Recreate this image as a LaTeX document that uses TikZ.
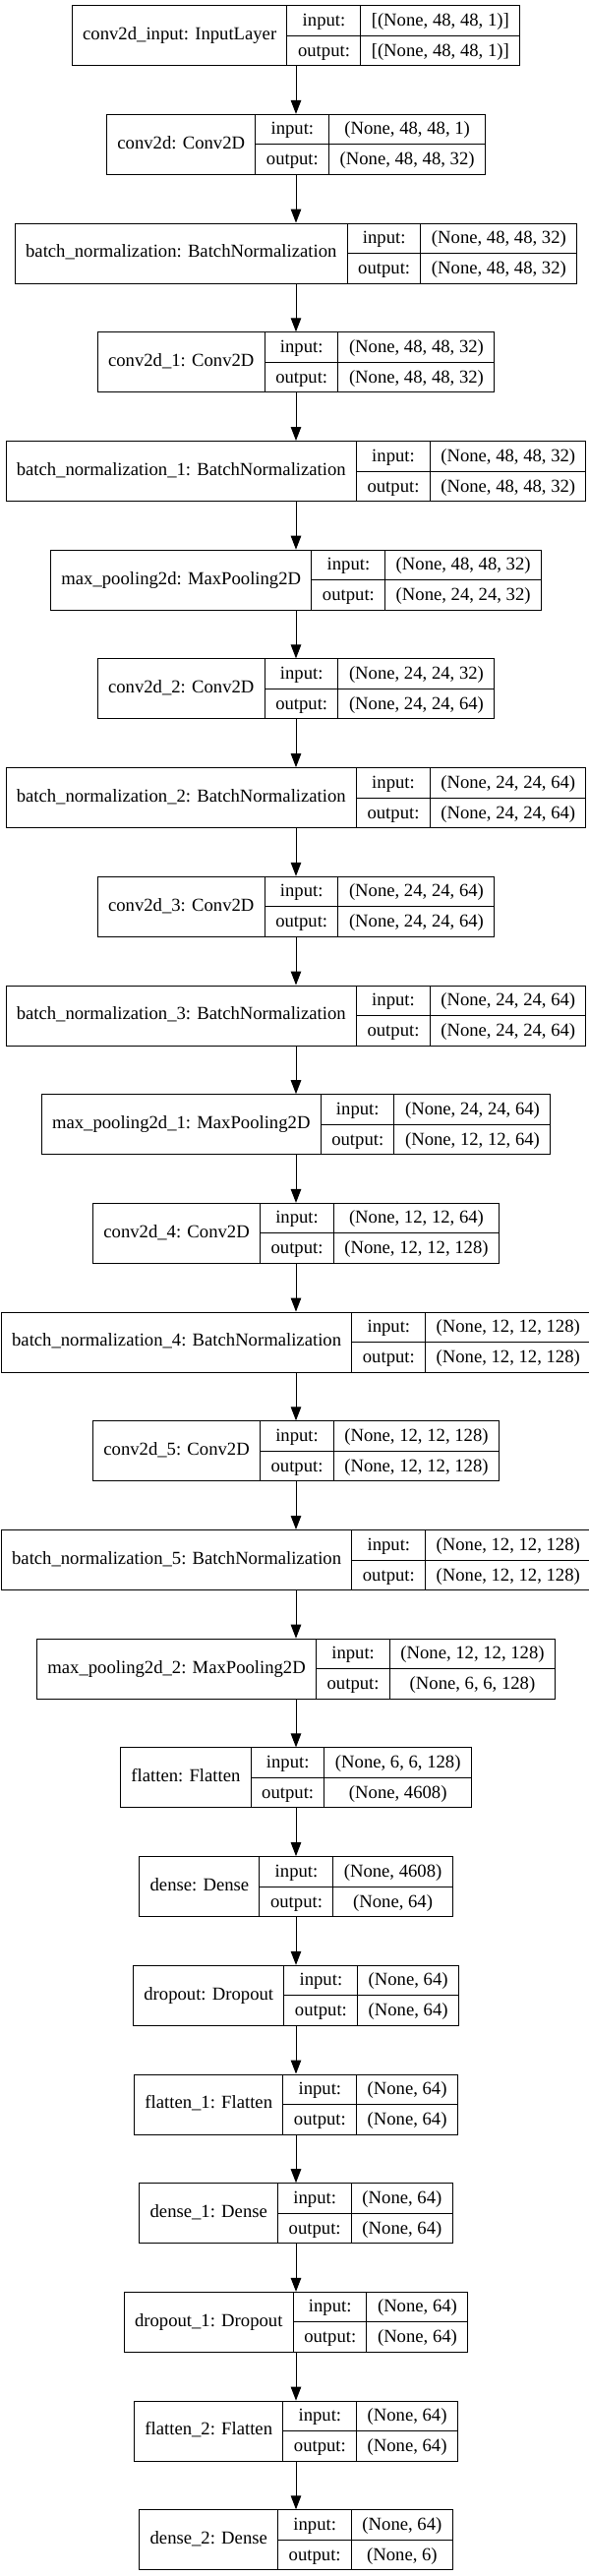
\documentclass[tikz,border=0pt]{standalone}
\usepackage{fontspec}
\setmainfont{Liberation Serif}
\usepackage{tikz}
\usetikzlibrary{arrows.meta}

\setlength{\tabcolsep}{10.67pt}
\setlength{\arrayrulewidth}{1pt}
\newcommand{\rowstrut}{\rule[-9.5pt]{0pt}{30pt}}
\newcommand{\portcol}[2]{\begin{tabular}{c}\rowstrut #1\\\hline\rowstrut #2\end{tabular}}
\newcommand{\layer}[4]{%
\node[layerbox] (l#1) at (\xmid,{-\ytop-\ystep*#1}) {\begin{tabular}{c|@{}c@{}|@{}c@{}}#2 & \portcol{input:}{output:} & #3\end{tabular}};}

\begin{document}
\begin{tikzpicture}[x=1pt,y=1pt,font=\fontsize{18.67pt}{22.4pt}\selectfont,
  layerbox/.style={draw,line width=1pt,inner sep=0pt},
  flow/.style={line width=1pt,-{Triangle[length=14pt,width=10.5pt]}}]
\useasboundingbox (0,0) rectangle (599,-2619);
\def\xmid{301}
\def\ytop{36.2}
\def\ystep{110.7}

\layer{0}{conv2d\_input: InputLayer}{\portcol{[(None, 48, 48, 1)]}{[(None, 48, 48, 1)]}}{}
\layer{1}{conv2d: Conv2D}{\portcol{(None, 48, 48, 1)}{(None, 48, 48, 32)}}{}
\layer{2}{batch\_normalization: BatchNormalization}{\portcol{(None, 48, 48, 32)}{(None, 48, 48, 32)}}{}
\layer{3}{conv2d\_1: Conv2D}{\portcol{(None, 48, 48, 32)}{(None, 48, 48, 32)}}{}
\layer{4}{batch\_normalization\_1: BatchNormalization}{\portcol{(None, 48, 48, 32)}{(None, 48, 48, 32)}}{}
\layer{5}{max\_pooling2d: MaxPooling2D}{\portcol{(None, 48, 48, 32)}{(None, 24, 24, 32)}}{}
\layer{6}{conv2d\_2: Conv2D}{\portcol{(None, 24, 24, 32)}{(None, 24, 24, 64)}}{}
\layer{7}{batch\_normalization\_2: BatchNormalization}{\portcol{(None, 24, 24, 64)}{(None, 24, 24, 64)}}{}
\layer{8}{conv2d\_3: Conv2D}{\portcol{(None, 24, 24, 64)}{(None, 24, 24, 64)}}{}
\layer{9}{batch\_normalization\_3: BatchNormalization}{\portcol{(None, 24, 24, 64)}{(None, 24, 24, 64)}}{}
\layer{10}{max\_pooling2d\_1: MaxPooling2D}{\portcol{(None, 24, 24, 64)}{(None, 12, 12, 64)}}{}
\layer{11}{conv2d\_4: Conv2D}{\portcol{(None, 12, 12, 64)}{(None, 12, 12, 128)}}{}
\layer{12}{batch\_normalization\_4: BatchNormalization}{\portcol{(None, 12, 12, 128)}{(None, 12, 12, 128)}}{}
\layer{13}{conv2d\_5: Conv2D}{\portcol{(None, 12, 12, 128)}{(None, 12, 12, 128)}}{}
\layer{14}{batch\_normalization\_5: BatchNormalization}{\portcol{(None, 12, 12, 128)}{(None, 12, 12, 128)}}{}
\layer{15}{max\_pooling2d\_2: MaxPooling2D}{\portcol{(None, 12, 12, 128)}{(None, 6, 6, 128)}}{}
\layer{16}{flatten: Flatten}{\portcol{(None, 6, 6, 128)}{(None, 4608)}}{}
\layer{17}{dense: Dense}{\portcol{(None, 4608)}{(None, 64)}}{}
\layer{18}{dropout: Dropout}{\portcol{(None, 64)}{(None, 64)}}{}
\layer{19}{flatten\_1: Flatten}{\portcol{(None, 64)}{(None, 64)}}{}
\layer{20}{dense\_1: Dense}{\portcol{(None, 64)}{(None, 64)}}{}
\layer{21}{dropout\_1: Dropout}{\portcol{(None, 64)}{(None, 64)}}{}
\layer{22}{flatten\_2: Flatten}{\portcol{(None, 64)}{(None, 64)}}{}
\layer{23}{dense\_2: Dense}{\portcol{(None, 64)}{(None, 6)}}{}

% arrows between layers
\foreach \i in {1,...,23} {
	\pgfmathtruncatemacro{\j}{\i-1}
	\draw [flow] (l\j) -- (l\i);
}
\end{tikzpicture}
\end{document}
